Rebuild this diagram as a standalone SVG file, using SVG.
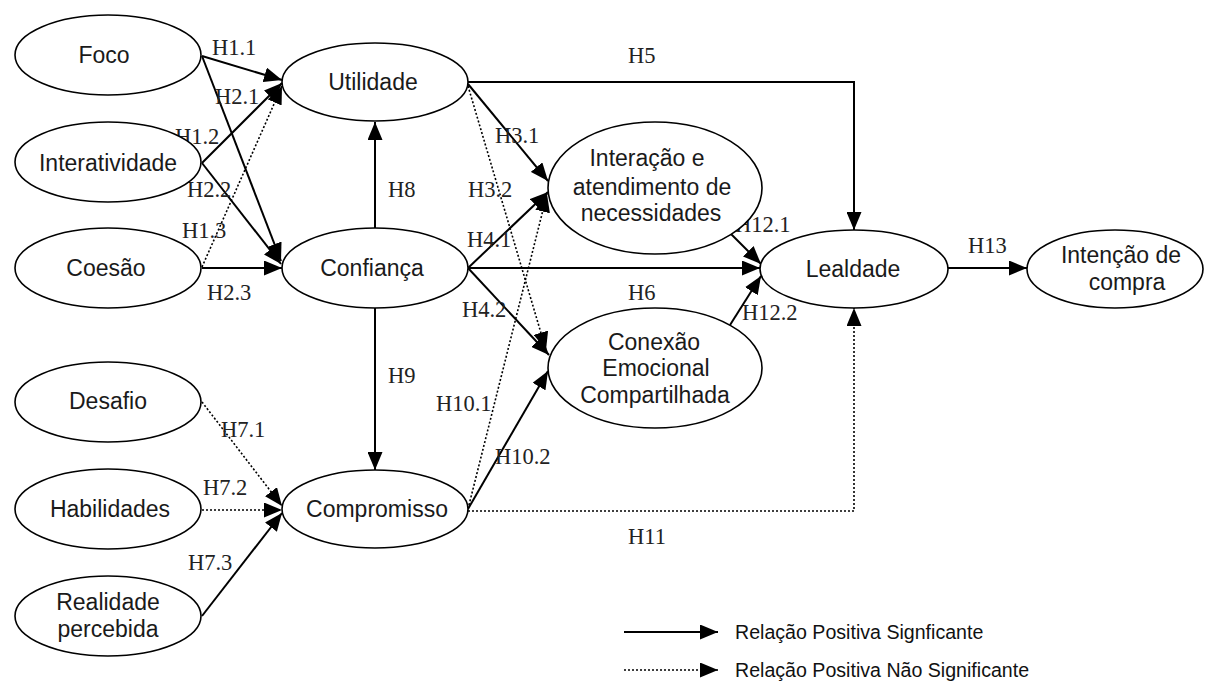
<svg xmlns="http://www.w3.org/2000/svg" width="1205" height="681" viewBox="0 0 1205 681">
<defs>
<style>
.n ellipse{fill:#fff;stroke:#000;stroke-width:1.6}
.n text{font-family:"Liberation Sans",Arial,sans-serif;font-size:23px;fill:#1a1a1a;text-anchor:middle}
.lb{font-family:"Liberation Serif","Times New Roman",serif;font-size:22.5px;fill:#222}
.s{fill:none;stroke:#000;stroke-width:2}
.d{fill:none;stroke:#000;stroke-width:1.6;stroke-dasharray:2 2}
.lg{font-family:"Liberation Sans",Arial,sans-serif;font-size:19.6px;fill:#111}
</style>
<marker id="ah" viewBox="0 0 18 15" refX="18" refY="7.5" markerWidth="18" markerHeight="15" orient="auto" markerUnits="userSpaceOnUse"><path d="M0,0 L18,7.5 L0,15 z" fill="#000"/></marker>
</defs>
<rect width="1205" height="681" fill="#fff"/>
<g id="connectors">
<line class="s" x1="202" y1="56" x2="282" y2="80" marker-end="url(#ah)"/>
<line class="s" x1="202" y1="56" x2="281" y2="261" marker-end="url(#ah)"/>
<line class="s" x1="202" y1="163" x2="282" y2="83" marker-end="url(#ah)"/>
<line class="s" x1="202" y1="163" x2="281" y2="264" marker-end="url(#ah)"/>
<line class="d" x1="202" y1="267" x2="282" y2="86" marker-end="url(#ah)"/>
<line class="s" x1="202" y1="268" x2="282" y2="268" marker-end="url(#ah)"/>
<line class="s" x1="375" y1="228" x2="375" y2="122" marker-end="url(#ah)"/>
<line class="s" x1="375" y1="308" x2="375" y2="470" marker-end="url(#ah)"/>
<line class="d" x1="202" y1="402" x2="282" y2="506" marker-end="url(#ah)"/>
<line class="d" x1="202" y1="510" x2="282" y2="510" marker-end="url(#ah)"/>
<line class="s" x1="202" y1="616" x2="282" y2="513" marker-end="url(#ah)"/>
<polyline class="s" points="468,82 854,82 854,230" marker-end="url(#ah)"/>
<line class="s" x1="468" y1="84" x2="548" y2="181" marker-end="url(#ah)"/>
<line class="d" x1="468" y1="86" x2="546" y2="350" marker-end="url(#ah)"/>
<line class="s" x1="468" y1="268" x2="548" y2="192" marker-end="url(#ah)"/>
<line class="s" x1="468" y1="268" x2="760" y2="268" marker-end="url(#ah)"/>
<line class="s" x1="468" y1="268" x2="549" y2="355" marker-end="url(#ah)"/>
<line class="d" x1="468" y1="509" x2="547" y2="194" marker-end="url(#ah)"/>
<line class="s" x1="468" y1="509" x2="548" y2="371" marker-end="url(#ah)"/>
<polyline class="d" points="468,511 854,511 854,308" marker-end="url(#ah)"/>
<line class="s" x1="730" y1="233" x2="761" y2="264" marker-end="url(#ah)"/>
<line class="s" x1="730" y1="325" x2="761" y2="276" marker-end="url(#ah)"/>
<line class="s" x1="948" y1="268" x2="1027" y2="268" marker-end="url(#ah)"/>
<line class="s" x1="624" y1="632" x2="718" y2="632" marker-end="url(#ah)"/>
<line class="d" x1="624" y1="670" x2="718" y2="670" marker-end="url(#ah)"/>
</g>
<g id="labels">
<text class="lb" x="212" y="55">H1.1</text>
<text class="lb" x="215" y="104">H2.1</text>
<text class="lb" x="175" y="144">H1.2</text>
<text class="lb" x="187" y="197">H2.2</text>
<text class="lb" x="182" y="238">H1.3</text>
<text class="lb" x="207" y="300">H2.3</text>
<text class="lb" x="388" y="197">H8</text>
<text class="lb" x="388" y="383">H9</text>
<text class="lb" x="221" y="437">H7.1</text>
<text class="lb" x="203" y="495">H7.2</text>
<text class="lb" x="188" y="570">H7.3</text>
<text class="lb" x="628" y="63">H5</text>
<text class="lb" x="495" y="143">H3.1</text>
<text class="lb" x="468" y="197">H3.2</text>
<text class="lb" x="467" y="247">H4.1</text>
<text class="lb" x="735" y="232">H12.1</text>
<text class="lb" x="628" y="300">H6</text>
<text class="lb" x="462" y="317">H4.2</text>
<text class="lb" x="742" y="320">H12.2</text>
<text class="lb" x="436" y="411">H10.1</text>
<text class="lb" x="495" y="464">H10.2</text>
<text class="lb" x="628" y="544">H11</text>
<text class="lb" x="968" y="253">H13</text>
</g>
<g id="foco" class="n"><ellipse cx="108" cy="55" rx="93" ry="40"/><text x="104" y="63">Foco</text></g>
<g id="interatividade" class="n"><ellipse cx="108" cy="162" rx="93" ry="40"/><text x="108" y="171">Interatividade</text></g>
<g id="coesao" class="n"><ellipse cx="108" cy="268" rx="93" ry="40"/><text x="106" y="276">Coesão</text></g>
<g id="desafio" class="n"><ellipse cx="108" cy="402" rx="93" ry="40"/><text x="108" y="409">Desafio</text></g>
<g id="habilidades" class="n"><ellipse cx="108" cy="509" rx="93" ry="40"/><text x="110" y="517">Habilidades</text></g>
<g id="realidade" class="n"><ellipse cx="108" cy="616" rx="93" ry="40"/><text x="108" y="610">Realidade</text><text x="108" y="637">percebida</text></g>
<g id="utilidade" class="n"><ellipse cx="375" cy="82" rx="93" ry="39"/><text x="373" y="90">Utilidade</text></g>
<g id="confianca" class="n"><ellipse cx="375" cy="268" rx="93" ry="40"/><text x="372" y="276">Confiança</text></g>
<g id="compromisso" class="n"><ellipse cx="375" cy="509" rx="93" ry="39"/><text x="377" y="517">Compromisso</text></g>
<g id="interacao" class="n"><ellipse cx="655" cy="188" rx="107" ry="66"/><text x="647" y="166">Interação e</text><text x="652" y="195">atendimento de</text><text x="651" y="221">necessidades</text></g>
<g id="conexao" class="n"><ellipse cx="655" cy="368" rx="107" ry="60"/><text x="654" y="350">Conexão</text><text x="656" y="376">Emocional</text><text x="655" y="403">Compartilhada</text></g>
<g id="lealdade" class="n"><ellipse cx="854" cy="269" rx="94" ry="39"/><text x="853" y="277">Lealdade</text></g>
<g id="intencao" class="n"><ellipse cx="1115" cy="269" rx="88" ry="39"/><text x="1121" y="263">Intenção de</text><text x="1127" y="290">compra</text></g>
<g id="legend">
<text class="lg" x="735" y="639">Relação Positiva Signficante</text>
<text class="lg" x="735" y="677">Relação Positiva Não Significante</text>
</g>
</svg>
